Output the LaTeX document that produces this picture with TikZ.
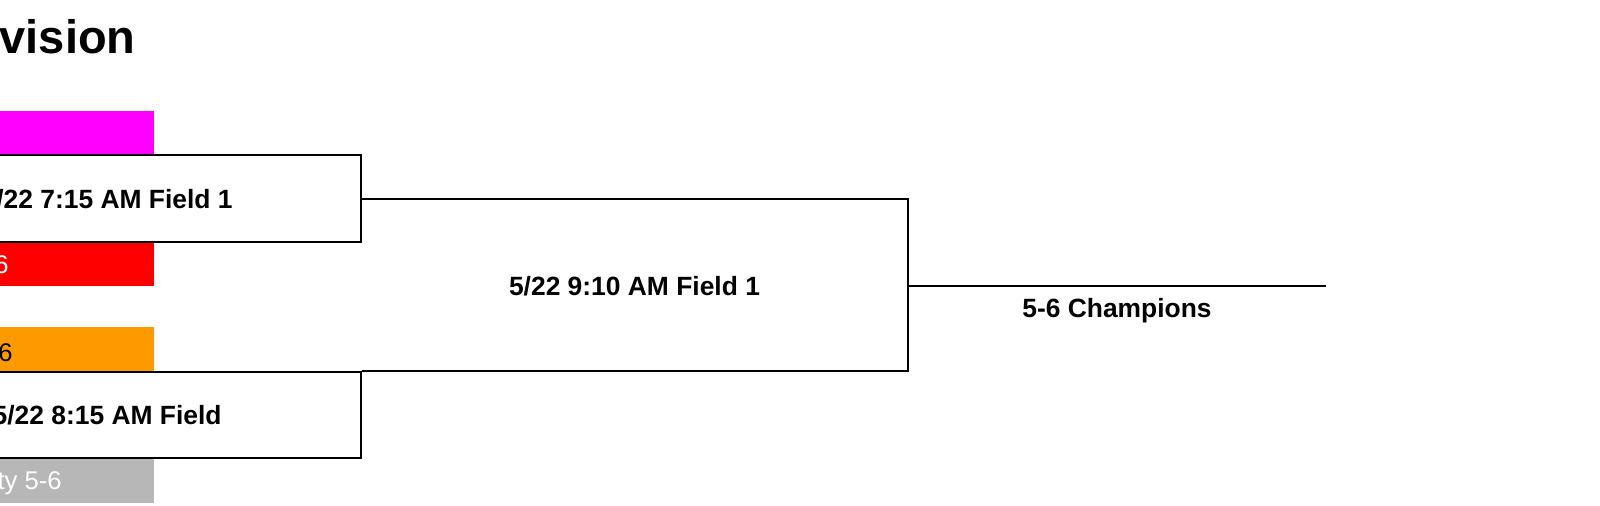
\documentclass[tikz,border=0pt]{standalone}
\usepackage{fontspec}
\setmainfont{Liberation Sans}
\usepackage{xcolor}
\usepackage{tikz}

\definecolor{teammagenta}{HTML}{FF00FF}
\definecolor{teamred}{HTML}{FF0000}
\definecolor{teamorange}{HTML}{FF9900}
\definecolor{teamgray}{HTML}{B7B7B7}

\tikzset{
    teambar/.style={rectangle, draw=none, minimum width=152pt, minimum height=22pt, inner sep=0pt},
    matchbox/.style={draw, rectangle, line width=1pt, fill=white, minimum width=255.5pt, minimum height=43.5pt, inner sep=0pt},
    bracket/.style={line width=1pt},
    matchtext/.style={inner sep=0pt, font=\fontsize{13.2}{16}\selectfont\bfseries},
    teamtext/.style={inner sep=0pt, font=\fontsize{12.8}{16}\selectfont}
}

\begin{document}
\begin{tikzpicture}[x=0.5pt, y=-0.5pt]
    \useasboundingbox (0,0) rectangle (1600,505);
    \clip (0,0) rectangle (1600,505);

    \node[inner sep=0pt, anchor=base east, font=\fontsize{23.5}{28}\selectfont\bfseries] (title) at (136, 53) {vision};

    \node[teambar, fill=teammagenta] (team1) at (2, 133) {};
    \node[teambar, fill=teamred] (team2) at (2, 264) {};
    \node[teambar, fill=teamorange, minimum height=22.5pt] (team3) at (2, 349.5) {};
    \node[teambar, fill=teamgray, minimum height=22.5pt] (team4) at (2, 480.5) {};

    \node[teamtext, text=white, anchor=base east] (team2txt) at (9, 273) {6};
    \node[teamtext, anchor=base east] (team3txt) at (13, 361) {6};
    \node[teamtext, text=white, anchor=base east] (team4txt) at (62, 489.5) {ty 5-6};

    \node[matchbox] (m1) at (105.5, 198.5) {};
    \node[matchbox, minimum height=43pt] (m2) at (105.5, 415) {};
    \node[matchtext, anchor=base east] (m1txt) at (233, 208) {/22 7:15 AM Field 1};
    \node[matchtext, anchor=base east] (m2txt) at (222, 424.5) {5/22 8:15 AM Field};

    \coordinate (r3) at (908, 285.5);
    \coordinate (champ) at (1326, 285.5);
    \node[matchtext, anchor=base] (m3) at (634.5, 295) {5/22 9:10 AM Field 1};
    \node[matchtext, anchor=base] (champtxt) at (1117, 317) {5-6 Champions};

    \draw[bracket] (m1.east) -| (r3) |- (m2.north east);
    \draw[bracket] (r3) -- (champ);
\end{tikzpicture}
\end{document}
